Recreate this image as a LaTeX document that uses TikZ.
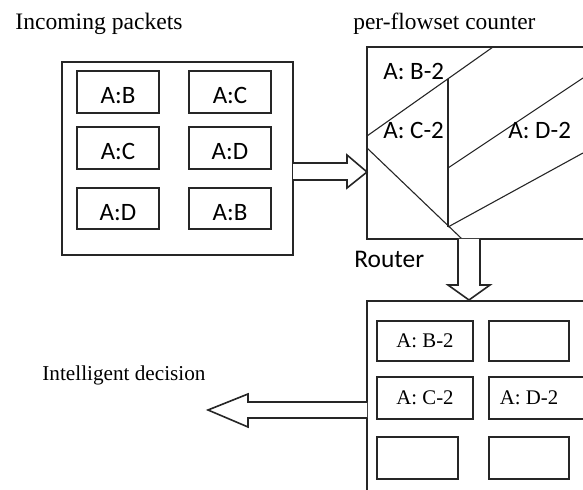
\documentclass[tikz,border=0pt]{standalone}
\usepackage{fontspec}
\setmainfont{Liberation Serif}
\newfontfamily\carlitofont{Carlito}
\begin{document}
\begin{tikzpicture}[x=0.5pt,y=-0.5pt,
  box/.style={draw=black!85,line width=0.9pt,inner sep=0pt,outer sep=0pt},
  pk/.style={box,minimum width=41pt,font=\carlitofont\fontsize{12.5}{14}\selectfont},
  tb/.style={box,font=\fontsize{10.4}{12}\selectfont},
  cline/.style={draw=black!85,line width=0.55pt},
  blk/.style={draw=black!85,line width=0.8pt,fill=white,line join=miter},
  lbl/.style={inner sep=0pt,anchor=base west}]
\useasboundingbox (0,0) rectangle (583,490);
\clip (0,0) rectangle (583,490);

% titles
\node[lbl,font=\fontsize{11.8}{14}\selectfont] (tin) at (15,30) {Incoming packets};
\node[lbl,font=\fontsize{11.7}{14}\selectfont] (tcnt) at (353,30) {per-flowset counter};
\node[lbl,font=\carlitofont\fontsize{12.7}{15}\selectfont] (trt) at (354,268) {Router};
\node[lbl,font=\fontsize{10.6}{13}\selectfont] (tdec) at (42,381) {Intelligent decision};

% incoming packets box
\node[box,minimum width=115.5pt,minimum height=96.5pt] (inb) at (177.5,158.5) {};
\node[pk,minimum height=21pt] (p1) at (118,92) {};
\node[pk,minimum height=21pt] (p2) at (230,92) {};
\node[pk,minimum height=21pt] (p3) at (118,148) {};
\node[pk,minimum height=21pt] (p4) at (230,148) {};
\node[pk,minimum height=20.5pt] (p5) at (118,208.5) {};
\node[pk,minimum height=20.5pt] (p6) at (230,208.5) {};
\foreach \n/\t in {p1/A:B,p2/A:C,p3/A:C,p4/A:D,p5/A:D,p6/A:B}
  \node[inner sep=0pt,anchor=base,font=\carlitofont\fontsize{12.5}{14}\selectfont] at ([yshift=-6pt]\n.center) {\t};

% per-flowset counter box
\node[box,minimum width=116.5pt,minimum height=96pt,anchor=north west] (cnt) at (367,47) {};
\coordinate (a1) at (367,136);
\coordinate (a2) at (493,47);
\coordinate (v1) at (448,79);
\coordinate (v2) at (448,227);
\coordinate (b1) at (367,148);
\coordinate (b2) at (462,239);
\coordinate (c1) at (448,168);
\coordinate (c2) at (583,78);
\coordinate (d2) at (583,153);
\draw[cline] (a1) -- (a2);
\draw[cline] (v1) -- (v2);
\draw[cline] (b1) -- (b2);
\draw[cline] (c1) -- (c2);
\draw[cline] (v2) -- (d2);
\node[lbl,font=\carlitofont\fontsize{12.5}{15}\selectfont] (cb) at (383,80) {A: B-2};
\node[lbl,font=\carlitofont\fontsize{12.5}{15}\selectfont] (cc) at (383,139) {A: C-2};
\node[lbl,font=\carlitofont\fontsize{12.5}{15}\selectfont] (cd) at (508,139) {A: D-2};

% router table
\node[box,minimum width=116.5pt,minimum height=100pt,anchor=north west] (rt) at (367,301) {};
\node[tb,minimum width=48pt,minimum height=20pt] (r1) at (425,341) {A: B-2};
\node[tb,minimum width=40pt,minimum height=20pt] (r2) at (529,341) {};
\node[tb,minimum width=48pt,minimum height=21pt] (r3) at (425,398) {A: C-2};
\node[tb,minimum width=56pt,minimum height=21pt,anchor=west] (r4) at (489,398) {};
\node[inner sep=0pt,font=\fontsize{10.4}{12}\selectfont] (r4t) at (529,398) {A: D-2};
\node[tb,minimum width=40.5pt,minimum height=21pt] (r5) at (417.5,458) {};
\node[tb,minimum width=40pt,minimum height=21pt] (r6) at (529,458) {};

% block arrows
\draw[blk] (inb.east |- 0,163) -- (347,163) -- (347,155) -- (cnt.west |- 0,172) -- (347,188) -- (347,180) -- (inb.east |- 0,180);
\draw[blk] (458,239) -- (458,285) -- (448,285) -- (469,300) -- (490,285) -- (480,285) -- (480,239);
\draw[blk] (rt.west |- 0,402) -- (248,402) -- (248,394) -- (208,410) -- (248,427) -- (248,418) -- (rt.west |- 0,418);
\end{tikzpicture}
\end{document}
